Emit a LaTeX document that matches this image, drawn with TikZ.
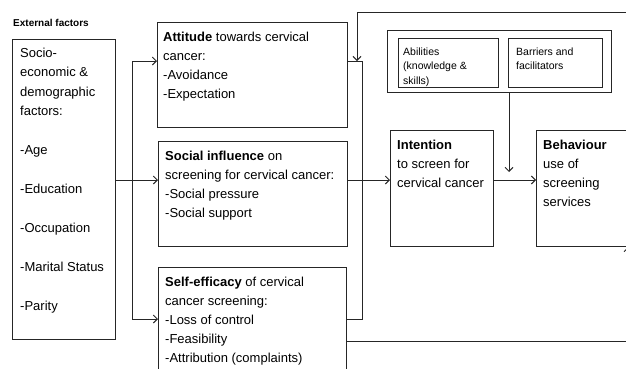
\documentclass[tikz,border=0pt]{standalone}
\usepackage{fontspec}
\setmainfont{Liberation Sans}
\usetikzlibrary{arrows.meta}
\begin{document}
\begin{tikzpicture}[x=1pt,y=-1pt,
  box/.style={draw=black!85, line width=1pt, inner sep=0, anchor=north west},
  txt/.style={anchor=north west, inner sep=0, align=left, font=\fontsize{13}{19}\selectfont},
  ltxt/.style={anchor=north west, inner sep=0, align=left, font=\fontsize{13}{19.5}\selectfont},
  small/.style={anchor=north west, inner sep=0, align=left, font=\fontsize{10.5}{14.5}\selectfont},
  ln/.style={draw=black!85, line width=1pt},
  arr/.style={ln, -{Straight Barb[length=4pt,width=8pt]}}]
\useasboundingbox (0,0) rectangle (626,368);
\clip (0,0) rectangle (626,368);

% label
\node[anchor=base west, inner sep=0, font=\fontsize{10}{12}\selectfont\bfseries] (ext) at (13,26) {External factors};

% boxes
\node[box, minimum width=103pt, minimum height=300pt] (left) at (12,39) {};
\node[box, minimum width=190pt, minimum height=105pt] (att) at (157,22) {};
\node[box, minimum width=189pt, minimum height=105pt] (soc) at (158,141) {};
\node[box, minimum width=188pt, minimum height=140pt] (self) at (158,267) {};
\node[box, minimum width=103pt, minimum height=116pt] (int) at (390,130) {};
\node[box, minimum width=170pt, minimum height=116pt] (beh) at (536,130) {};
\node[box, minimum width=224pt, minimum height=62pt] (outer) at (387,30) {};
\node[box, minimum width=100pt, minimum height=49pt] (abil) at (398,38) {};
\node[box, minimum width=94pt, minimum height=49pt] (barr) at (508,38) {};

% texts
\node[ltxt] (tleft) at (20,43.3) {\strut Socio-\\economic \&\\demographic\\factors:\\[19.5pt]-Age\\[19.5pt]-Education\\[19.5pt]-Occupation\\[19.5pt]-Marital Status\\[19.5pt]-Parity};
\node[txt] (tatt) at (163,27.7) {\strut\textbf{Attitude} towards cervical\\cancer:\\-Avoidance\\-Expectation};
\node[txt] (tsoc) at (165,146.7) {\strut\textbf{Social influence} on\\screening for cervical cancer:\\-Social pressure\\-Social support};
\node[txt] (tself) at (165,272.7) {\strut\textbf{Self-efficacy} of cervical\\cancer screening:\\-Loss of control\\-Feasibility\\-Attribution (complaints)};
\node[txt] (tint) at (397,135.7) {\strut\textbf{Intention}\\to screen for\\cervical cancer};
\node[txt] (tbeh) at (543,135.7) {\strut\textbf{Behaviour}\\use of\\screening\\services};
\node[small] (tabil) at (403,44.85) {\strut Abilities\\(knowledge \&\\skills)};
\node[small] (tbarr) at (516,44.85) {\strut Barriers and\\facilitators};

% coordinates
\coordinate (yA) at (0,61);
\coordinate (yS) at (0,180);
\coordinate (yE) at (0,319);
\coordinate (yL) at (0,341);
\coordinate (dT) at (132,61);
\coordinate (dB) at (132,319);
\coordinate (cT) at (362,61);
\coordinate (cB) at (362,319);
\coordinate (fb) at (357,12);
\coordinate (rt) at (640,12);
\coordinate (bA) at (509,172);
\coordinate (rb) at (628,341);

% connectors
\draw[arr] (left.east|-yS) -- (soc.west|-yS);
\draw[ln] (dT) -- (dB);
\draw[arr] (dT) -- (att.west|-yA);
\draw[arr] (dB) -- (self.west|-yE);
\draw[ln] (att.east|-yA) -- (cT) -- (cB) -- (self.east|-yE);
\draw[arr] (soc.east|-yS) -- (int.west|-yS);
\draw[arr] (rt) -- (fb) -- (fb|-yA);
\draw[arr] (outer.south-|bA) -- (bA);
\draw[arr] (int.east|-yS) -- (beh.west|-yS);
\draw[arr] (self.east|-yL) -- (rb) -- (beh.south-|rb);
\end{tikzpicture}
\end{document}
